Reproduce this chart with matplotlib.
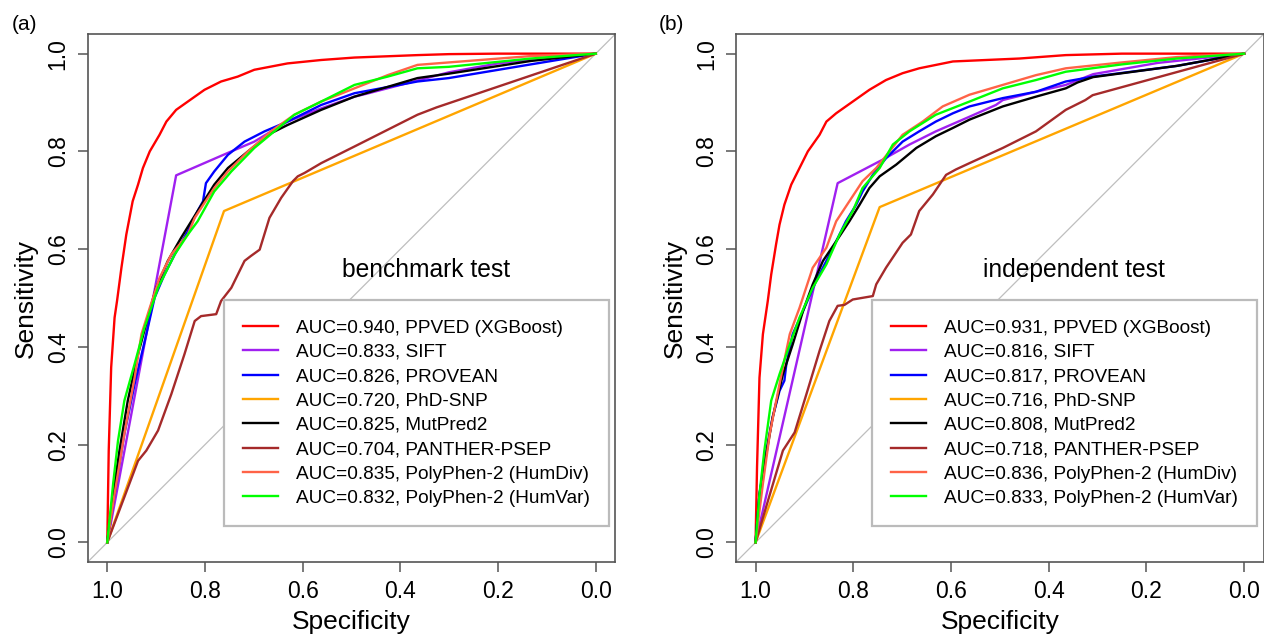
import matplotlib
matplotlib.use('Agg')
import matplotlib.pyplot as plt

plt.rcParams['font.family'] = ['Liberation Sans', 'DejaVu Sans']

methods = ['PPVED (XGBoost)', 'SIFT', 'PROVEAN', 'PhD-SNP', 'MutPred2',
           'PANTHER-PSEP', 'PolyPhen-2 (HumDiv)', 'PolyPhen-2 (HumVar)']
colors = ['#FF0000', '#A020F0', '#0000FF', '#FFA500', '#000000',
          '#A52A2A', '#FF6347', '#00FF00']

auc_bench = [0.940, 0.833, 0.826, 0.720, 0.825, 0.704, 0.835, 0.832]
auc_indep = [0.931, 0.816, 0.817, 0.716, 0.808, 0.718, 0.836, 0.833]

# ---- (a) benchmark test: (specificity, sensitivity) ----
bench_xgb = ([1, 0.997, 0.992, 0.985, 0.980, 0.971, 0.961, 0.948, 0.937, 0.927, 0.913, 0.893, 0.879,
              0.859, 0.835, 0.801, 0.767, 0.733, 0.699, 0.631, 0.562, 0.494, 0.365, 0.30, 0.2, 0],
             [0, 0.188, 0.358, 0.460, 0.494, 0.562, 0.630, 0.698, 0.732, 0.766, 0.800, 0.834, 0.861,
              0.885, 0.902, 0.926, 0.943, 0.953, 0.967, 0.980, 0.987, 0.992, 0.997, 0.999, 1.0, 1.0])
bench_sift = ([1, 0.859, 0.753, 0.699, 0.631, 0.562, 0.494, 0.469, 0.365, 0.30, 0.2, 0.133, 0],
              [0, 0.751, 0.797, 0.820, 0.861, 0.888, 0.912, 0.918, 0.945, 0.962, 0.980, 0.988, 1.0])
bench_provean = ([1, 0.985, 0.965, 0.944, 0.920, 0.903, 0.883, 0.862, 0.835, 0.815, 0.804, 0.798, 0.781,
                  0.753, 0.719, 0.678, 0.631, 0.562, 0.494, 0.365, 0.301, 0.133, 0],
                 [0, 0.099, 0.222, 0.324, 0.426, 0.501, 0.548, 0.589, 0.637, 0.678, 0.698, 0.735, 0.759,
                  0.793, 0.820, 0.841, 0.861, 0.895, 0.919, 0.943, 0.950, 0.978, 1.0])
bench_phd = ([1, 0.761, 0], [0, 0.678, 1.0])
bench_mutpred = ([1, 0.988, 0.975, 0.958, 0.937, 0.917, 0.900, 0.876, 0.849, 0.815, 0.781, 0.753, 0.712,
                  0.665, 0.631, 0.562, 0.494, 0.365, 0.301, 0.133, 0],
                 [0, 0.099, 0.188, 0.290, 0.385, 0.460, 0.521, 0.576, 0.623, 0.678, 0.732, 0.766, 0.800,
                  0.837, 0.854, 0.885, 0.912, 0.950, 0.959, 0.985, 1.0])
bench_panther = ([1, 0.937, 0.920, 0.896, 0.869, 0.842, 0.821, 0.808, 0.777, 0.767, 0.746, 0.719, 0.706,
                  0.688, 0.668, 0.644, 0.620, 0.610, 0.596, 0.562, 0.494, 0.365, 0.326, 0],
                 [0, 0.167, 0.188, 0.229, 0.303, 0.385, 0.453, 0.463, 0.467, 0.494, 0.521, 0.576, 0.586,
                  0.599, 0.664, 0.705, 0.739, 0.749, 0.756, 0.776, 0.810, 0.875, 0.890, 1.0])
bench_humdiv = ([1, 0.985, 0.965, 0.944, 0.930, 0.913, 0.893, 0.869, 0.835, 0.821, 0.781, 0.753, 0.712,
                 0.665, 0.617, 0.562, 0.494, 0.426, 0.365, 0.301, 0.133, 0],
                [0, 0.099, 0.222, 0.337, 0.426, 0.480, 0.541, 0.589, 0.630, 0.664, 0.725, 0.759, 0.800,
                 0.841, 0.875, 0.902, 0.929, 0.956, 0.977, 0.982, 0.995, 1.0])
bench_humvar = ([1, 0.988, 0.978, 0.965, 0.944, 0.924, 0.896, 0.862, 0.835, 0.815, 0.781, 0.746, 0.699,
                 0.658, 0.617, 0.562, 0.494, 0.426, 0.365, 0.301, 0.133, 0],
                [0, 0.120, 0.208, 0.290, 0.365, 0.439, 0.521, 0.589, 0.630, 0.657, 0.718, 0.759, 0.807,
                 0.841, 0.875, 0.902, 0.936, 0.953, 0.970, 0.973, 0.990, 1.0])

# ---- (b) independent test ----
indep_xgb = ([1, 0.997, 0.992, 0.985, 0.975, 0.968, 0.958, 0.951, 0.941, 0.927, 0.910, 0.893, 0.869,
              0.855, 0.835, 0.801, 0.767, 0.733, 0.699, 0.665, 0.596, 0.528, 0.460, 0.365, 0.25, 0],
             [0, 0.154, 0.337, 0.426, 0.494, 0.548, 0.610, 0.650, 0.691, 0.732, 0.766, 0.800, 0.834,
              0.861, 0.878, 0.902, 0.926, 0.946, 0.960, 0.970, 0.984, 0.987, 0.990, 0.997, 1.0, 1.0])
indep_sift = ([1, 0.832, 0.740, 0.685, 0.631, 0.562, 0.508, 0.494, 0.426, 0.365, 0.309, 0.177, 0],
              [0, 0.735, 0.783, 0.814, 0.841, 0.871, 0.895, 0.905, 0.922, 0.936, 0.958, 0.981, 1.0])
indep_provean = ([1, 0.992, 0.978, 0.965, 0.951, 0.941, 0.937, 0.924, 0.903, 0.876, 0.855, 0.835, 0.815,
                  0.794, 0.781, 0.760, 0.733, 0.699, 0.665, 0.631, 0.596, 0.562, 0.494, 0.426, 0.365,
                  0.309, 0.137, 0],
                 [0, 0.099, 0.188, 0.256, 0.310, 0.331, 0.365, 0.426, 0.473, 0.535, 0.576, 0.616, 0.657,
                  0.691, 0.718, 0.752, 0.786, 0.820, 0.841, 0.861, 0.878, 0.892, 0.909, 0.922, 0.943,
                  0.953, 0.975, 1.0])
indep_phd = ([1, 0.746, 0], [0, 0.686, 1.0])
indep_mutpred = ([1, 0.992, 0.978, 0.965, 0.944, 0.924, 0.903, 0.883, 0.862, 0.835, 0.808, 0.787, 0.767,
                  0.746, 0.712, 0.671, 0.631, 0.596, 0.562, 0.494, 0.426, 0.365, 0.341, 0.309, 0.137, 0],
                 [0, 0.099, 0.181, 0.256, 0.344, 0.405, 0.473, 0.528, 0.576, 0.616, 0.657, 0.691, 0.725,
                  0.749, 0.773, 0.807, 0.831, 0.848, 0.865, 0.892, 0.912, 0.929, 0.941, 0.952, 0.975, 1.0])
indep_panther = ([1, 0.944, 0.920, 0.896, 0.869, 0.849, 0.832, 0.818, 0.801, 0.760, 0.753, 0.733, 0.699,
                  0.682, 0.665, 0.637, 0.610, 0.590, 0.562, 0.494, 0.426, 0.365, 0.325, 0.31, 0],
                 [0, 0.188, 0.225, 0.303, 0.392, 0.453, 0.484, 0.486, 0.497, 0.504, 0.528, 0.562, 0.613,
                  0.630, 0.678, 0.712, 0.752, 0.763, 0.776, 0.807, 0.841, 0.885, 0.905, 0.915, 1.0])
indep_humdiv = ([1, 0.985, 0.971, 0.951, 0.930, 0.910, 0.883, 0.855, 0.835, 0.808, 0.781, 0.753, 0.726,
                 0.699, 0.658, 0.617, 0.562, 0.494, 0.426, 0.365, 0.25, 0.137, 0],
                [0, 0.120, 0.222, 0.324, 0.426, 0.480, 0.562, 0.603, 0.657, 0.698, 0.739, 0.766, 0.800,
                 0.834, 0.861, 0.892, 0.916, 0.936, 0.956, 0.970, 0.982, 0.993, 1.0])
indep_humvar = ([1, 0.992, 0.982, 0.968, 0.951, 0.930, 0.910, 0.883, 0.855, 0.828, 0.801, 0.781, 0.746,
                 0.719, 0.685, 0.631, 0.562, 0.494, 0.426, 0.365, 0.25, 0.137, 0],
                [0, 0.099, 0.188, 0.290, 0.344, 0.405, 0.460, 0.521, 0.569, 0.630, 0.678, 0.725, 0.766,
                 0.814, 0.841, 0.875, 0.902, 0.929, 0.946, 0.963, 0.978, 0.990, 1.0])

bench_curves = [bench_xgb, bench_sift, bench_provean, bench_phd, bench_mutpred,
                bench_panther, bench_humdiv, bench_humvar]
indep_curves = [indep_xgb, indep_sift, indep_provean, indep_phd, indep_mutpred,
                indep_panther, indep_humdiv, indep_humvar]

fig = plt.figure(figsize=(12.64, 6.36), dpi=100)


def draw_panel(ax, curves, aucs, title, letter, letter_x):
    ax.axline((1, 0), (0, 1), color='#BEBEBE', lw=0.9, zorder=1)
    for (spec, sens), col, auc, name in zip(curves, colors, aucs, methods):
        ax.plot(spec, sens, color=col, lw=1.7, label=f'AUC={auc:.3f}, {name}', zorder=2)
    ax.set_xlim(1.04, -0.04)
    ax.set_ylim(-0.04, 1.04)
    ticks = [1.0, 0.8, 0.6, 0.4, 0.2, 0.0]
    ax.set_xticks(ticks)
    ax.set_xticklabels([f'{t:.1f}' for t in ticks])
    ax.set_yticks(ticks)
    ax.set_yticklabels([f'{t:.1f}' for t in ticks], rotation=90, va='center')
    ax.tick_params(labelsize=16.5, length=7, width=1.1, color='#555555', pad=6)
    for s in ax.spines.values():
        s.set_color('#555555')
        s.set_linewidth(1.2)
    ax.set_xlabel('Specificity', fontsize=19, labelpad=5)
    ax.set_ylabel('Sensitivity', fontsize=19, labelpad=6)
    ax.text(0.348, 0.557, title, fontsize=17.7, ha='center', va='center')
    leg = ax.legend(loc='lower right', bbox_to_anchor=(0.988, 0.068), borderaxespad=0,
                    fontsize=13.7, handlelength=1.85, handletextpad=0.95, labelspacing=0.37,
                    borderpad=1.0, fancybox=False, framealpha=1)
    leg.get_frame().set_edgecolor('#BBBBBB')
    leg.get_frame().set_linewidth(1.6)
    fig.text(letter_x, 0.961, letter, fontsize=15, ha='left', va='center')


ax1 = fig.add_axes([0.0694, 0.1164, 0.4174, 0.830])
ax2 = fig.add_axes([0.5823, 0.1164, 0.4174, 0.830])
draw_panel(ax1, bench_curves, auc_bench, 'benchmark test', '(a)', 0.009)
draw_panel(ax2, indep_curves, auc_indep, 'independent test', '(b)', 0.521)

fig.savefig('out.png', dpi=100)
